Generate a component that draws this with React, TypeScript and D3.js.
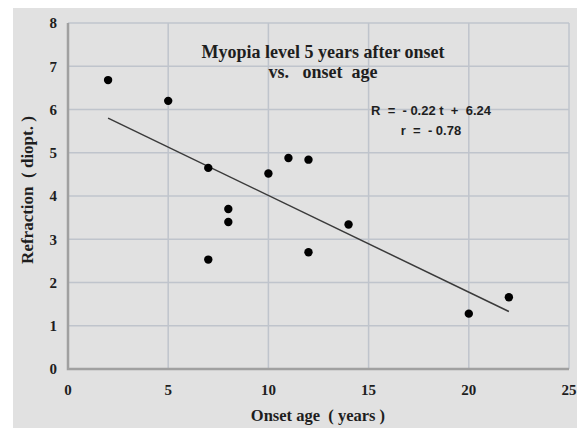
import React, { useEffect, useRef } from "react";
import * as d3 from "d3";

// onset age (years) and refraction (diopt.) 5 years after onset
const onsetAge = [2, 5, 7, 7, 8, 8, 10, 11, 12, 12, 14, 20, 22];
const refraction = [6.68, 6.2, 4.65, 2.53, 3.7, 3.4, 4.52, 4.88, 4.84, 2.7, 3.34, 1.28, 1.66];

// regression line end points as drawn
const trendAge = [2, 22];
const trendRefraction = [5.8, 1.33];

const xTicks = [0, 5, 10, 15, 20, 25];
const yTicks = [0, 1, 2, 3, 4, 5, 6, 7, 8];

const titleLines = ["Myopia level 5 years after onset", "vs.   onset  age"];
const equationLines = ["R  =  - 0.22 t  +  6.24", "r  =  - 0.78"];

const W = 577;
const H = 430;
const margin = { top: 23, right: 8, bottom: 61, left: 68 };

const App = () => {
    const ref = useRef<SVGGElement | null>(null);

    useEffect(() => {
        document.body.style.margin = "0";
        document.body.style.background = "#ffffff";
        const svg = d3.select(ref.current);
        svg.selectAll("*").remove();

        const x = d3.scaleLinear().domain([0, 25]).range([margin.left, W - margin.right]);
        const y = d3.scaleLinear().domain([0, 8]).range([H - margin.bottom, margin.top]);

        // panel background
        svg.append("rect")
            .attr("x", 13).attr("y", 8)
            .attr("width", W - 13).attr("height", 420)
            .style("fill", "rgb(225,225,225)");

        // grid
        const grid = svg.append("g").attr("stroke", "#bfc4cc").attr("stroke-width", 1.5);
        grid.selectAll("line.h")
            .data(yTicks.filter((d) => d > 0))
            .join("line")
            .attr("class", "h")
            .attr("x1", x(0)).attr("x2", x(25))
            .attr("y1", (d) => y(d)).attr("y2", (d) => y(d));
        grid.selectAll("line.v")
            .data(xTicks.filter((d) => d > 0))
            .join("line")
            .attr("class", "v")
            .attr("x1", (d) => x(d)).attr("x2", (d) => x(d))
            .attr("y1", y(0)).attr("y2", y(8));

        // axes (left + bottom)
        svg.append("path")
            .attr("d", `M${x(0)},${y(8)}V${y(0)}H${x(25)}`)
            .attr("fill", "none")
            .attr("stroke", "#a0a0a0")
            .attr("stroke-width", 2.5);

        const serif = "'Liberation Serif', 'Times New Roman', serif";

        // tick labels
        svg.append("g")
            .selectAll("text")
            .data(yTicks)
            .join("text")
            .attr("x", x(0) - 11)
            .attr("y", (d) => y(d))
            .attr("dy", "0.35em")
            .attr("text-anchor", "end")
            .attr("font-family", serif)
            .attr("font-weight", "bold")
            .attr("font-size", 15)
            .attr("fill", "#1e1e1e")
            .text((d) => d);
        svg.append("g")
            .selectAll("text")
            .data(xTicks)
            .join("text")
            .attr("x", (d) => x(d))
            .attr("y", y(0) + 26)
            .attr("text-anchor", "middle")
            .attr("font-family", serif)
            .attr("font-weight", "bold")
            .attr("font-size", 15)
            .attr("fill", "#1e1e1e")
            .text((d) => d);

        // axis titles
        svg.append("text")
            .attr("x", 318).attr("y", 421)
            .attr("text-anchor", "middle")
            .attr("font-family", serif)
            .attr("font-weight", "bold")
            .attr("font-size", 16.5)
            .attr("fill", "#1e1e1e")
            .style("white-space", "pre")
            .text("Onset age  ( years )");
        svg.append("text")
            .attr("transform", "translate(33,190) rotate(-90)")
            .attr("text-anchor", "middle")
            .attr("font-family", serif)
            .attr("font-weight", "bold")
            .attr("font-size", 17)
            .attr("fill", "#1e1e1e")
            .style("white-space", "pre")
            .text("Refraction  ( diopt. )");

        // chart title
        svg.append("g")
            .selectAll("text")
            .data(titleLines)
            .join("text")
            .attr("x", 323)
            .attr("y", (d, i) => 58 + i * 20)
            .attr("text-anchor", "middle")
            .attr("font-family", serif)
            .attr("font-weight", "bold")
            .attr("font-size", 18)
            .attr("fill", "#1e1e1e")
            .style("white-space", "pre")
            .text((d) => d);

        // regression equation
        svg.append("g")
            .selectAll("text")
            .data(equationLines)
            .join("text")
            .attr("x", 431)
            .attr("y", (d, i) => 115 + i * 20)
            .attr("text-anchor", "middle")
            .attr("font-family", "'Liberation Sans', Arial, sans-serif")
            .attr("font-weight", "bold")
            .attr("font-size", 13)
            .attr("fill", "#1e1e1e")
            .style("white-space", "pre")
            .text((d) => d);

        // trend line
        const line = d3
            .line<number>()
            .x((d) => x(d))
            .y((d, i) => y(trendRefraction[i]));
        svg.append("path")
            .datum(trendAge)
            .attr("d", line)
            .attr("fill", "none")
            .attr("stroke", "#3a3a3a")
            .attr("stroke-width", 1.5);

        // points
        svg.append("g")
            .selectAll("circle")
            .data(onsetAge)
            .join("circle")
            .attr("cx", (d) => x(d))
            .attr("cy", (d, i) => y(refraction[i]))
            .attr("r", 4.2)
            .attr("fill", "#000");
    }, []);

    return (
        <svg width={W} height={H} style={{ display: "block" }}>
            <g ref={ref} />
        </svg>
    );
};

export default App;
